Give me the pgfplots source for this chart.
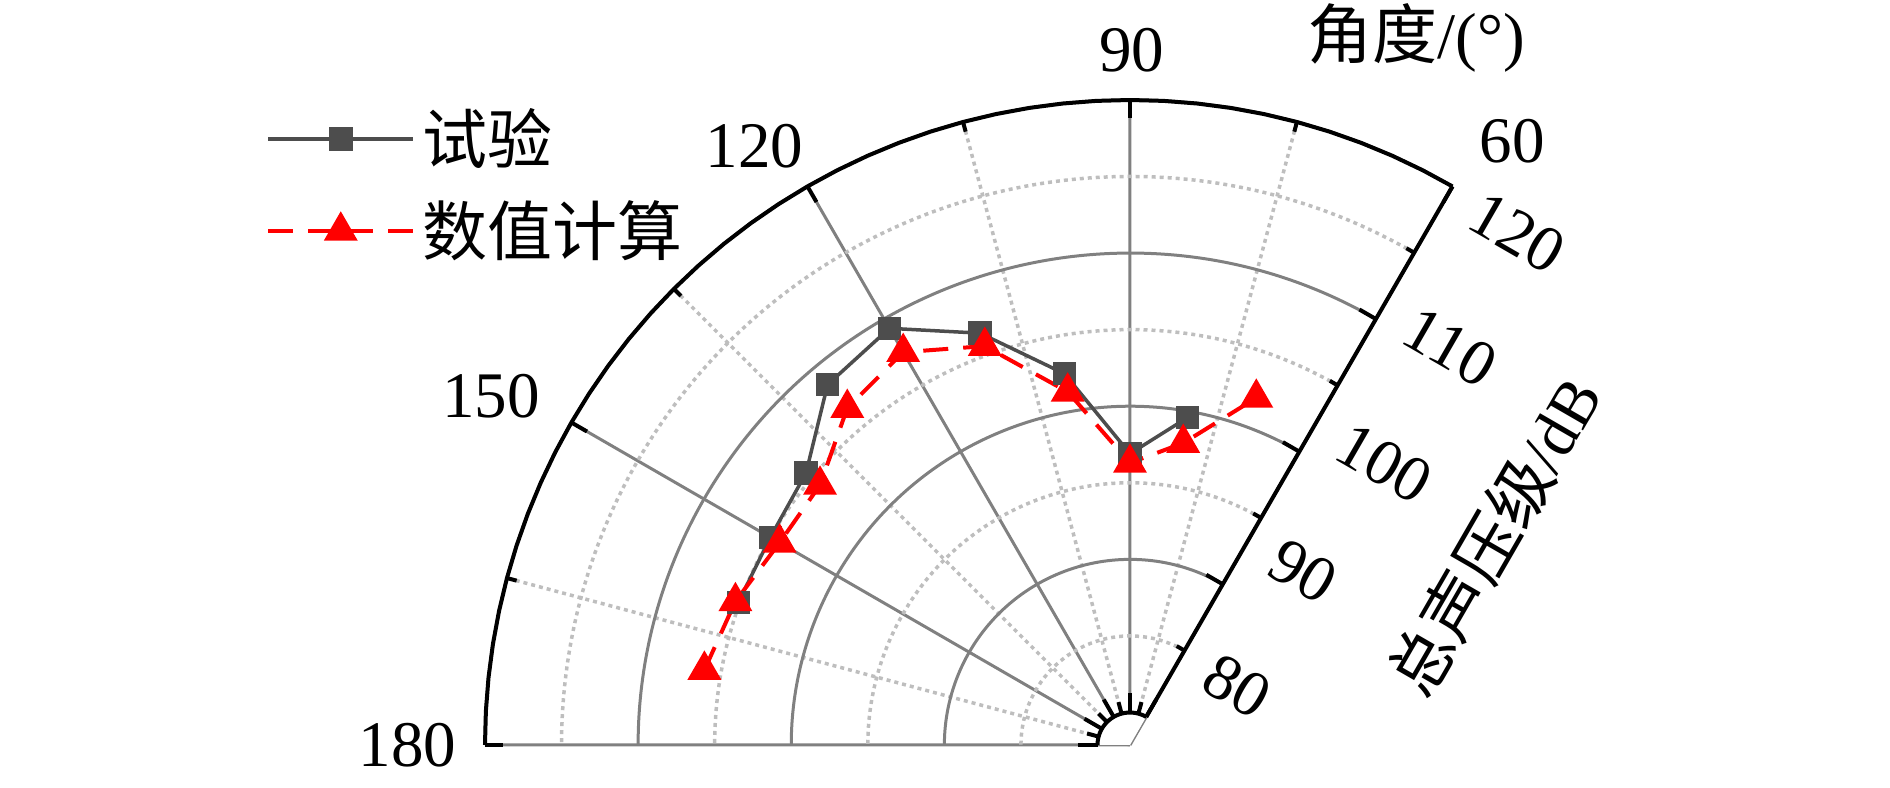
\documentclass[border=0pt]{standalone}
\usepackage{pgfplots}
\pgfplotsset{compat=1.18}
\usepackage{pgfplotstable}
\usepgfplotslibrary{polar}
\usepackage{fontspec}
\setmainfont{Liberation Serif}
\newfontfamily\cjk{Noto Sans CJK SC}
\definecolor{expgray}{RGB}{77,77,77}
\definecolor{majgrid}{RGB}{128,128,128}
\definecolor{mingrid}{RGB}{190,190,190}

\pgfplotstableread{
a db
160 105.1
150 105.0
140 105.5
130 108.6
120 109.3
110 106.5
100 102.5
90 96.9
80 99.6
}\expdata

\pgfplotstableread{
a db
170 106.1
160 105.3
150 104.3
140 104.3
130 106.6
120 107.5
110 105.6
100 101.3
90 96.3
80 97.9
70 102.0
}\numdata

\def\fs{\fontsize{18.5}{22}\selectfont}
\newcommand{\ylab}[2]{\hspace*{0.30cm}\raisebox{#1}{#2}}

\begin{document}
\begin{tikzpicture}
\useasboundingbox (-11.30,-0.43) rectangle (7.60,7.45);
\begin{polaraxis}[
  at={(0,0)}, anchor=origin,
  scale only axis, width=12.9cm, height=12.9cm,
  xmin=60, xmax=180, ymin=0, ymax=42.12,
  clip=false,
  xtick={60,90,120,150,180},
  xticklabels={,,,,},
  minor xtick={75,105,135,165},
  ytick={2.12,12.12,22.12,32.12,42.12},
  yticklabels={\ylab{0.505cm}{80},\ylab{0.305cm}{90},\ylab{0.115cm}{100},\ylab{-0.085cm}{110},\ylab{-0.29cm}{120}},
  minor ytick={7.12,17.12,27.12,37.12},
  grid=both,
  major grid style={draw=majgrid, line width=0.03cm},
  minor grid style={draw=mingrid, line width=0.035cm, dash pattern=on 0.04cm off 0.04cm},
  axis line style={draw=none},
  tick style={draw=none},
  /pgf/number format/assume math mode=true,
  tick label style={font=\fs},
  yticklabel style={rotate=-30, anchor=base west, inner sep=0pt},
  legend cell align=left,
  legend style={draw=none, fill=none, at={(axis cs:143.35,71.22)}, anchor=north west,
    font=\fs\cjk, row sep=5pt},
  legend image code/.code={\draw[mark repeat=2, mark phase=2, #1] plot coordinates {(0cm,0cm) (0.725cm,0cm) (1.45cm,0cm)};},
]
\addplot[color=expgray, line width=0.035cm, mark=square*, mark size=0.1cm, mark options={solid}]
  table[x=a, y expr=\thisrow{db}-77.88] {\expdata};
\addlegendentry{试验}
\addplot[color=red, line width=0.04cm, dash pattern=on 0.25cm off 0.15cm, mark=triangle*, mark size=0.156cm, mark options={solid}]
  table[x=a, y expr=\thisrow{db}-77.88] {\numdata};
\addlegendentry{数值计算}

% inner hole cover
\addplot[forget plot, draw=none, fill=white] coordinates {(60,0) (60,2.12) (65,2.12) (70,2.12) (75,2.12) (80,2.12) (85,2.12) (90,2.12) (95,2.12) (100,2.12) (105,2.12) (110,2.12) (115,2.12) (120,2.12) (125,2.12) (130,2.12) (135,2.12) (140,2.12) (145,2.12) (150,2.12) (155,2.12) (160,2.12) (165,2.12) (170,2.12) (175,2.12) (180,2.12) (180,0)};
% inner hole arc
\addplot[forget plot, black, line width=0.04cm, line join=round] coordinates {(60,2.12) (65,2.12) (70,2.12) (75,2.12) (80,2.12) (85,2.12) (90,2.12) (95,2.12) (100,2.12) (105,2.12) (110,2.12) (115,2.12) (120,2.12) (125,2.12) (130,2.12) (135,2.12) (140,2.12) (145,2.12) (150,2.12) (155,2.12) (160,2.12) (165,2.12) (170,2.12) (175,2.12) (180,2.12)};
% outer arc
\addplot[forget plot, black, line width=0.04cm, line join=round] coordinates {(60,42.12) (63,42.12) (66,42.12) (69,42.12) (72,42.12) (75,42.12) (78,42.12) (81,42.12) (84,42.12) (87,42.12) (90,42.12) (93,42.12) (96,42.12) (99,42.12) (102,42.12) (105,42.12) (108,42.12) (111,42.12) (114,42.12) (117,42.12) (120,42.12) (123,42.12) (126,42.12) (129,42.12) (132,42.12) (135,42.12) (138,42.12) (141,42.12) (144,42.12) (147,42.12) (150,42.12) (153,42.12) (156,42.12) (159,42.12) (162,42.12) (165,42.12) (168,42.12) (171,42.12) (174,42.12) (177,42.12) (180,42.12)};
% radial edge at 60
\draw[black, line width=0.04cm] (axis cs:60,2.12) -- (axis cs:60,42.12);
% angle ticks
\pgfplotsinvokeforeach{60,90,120,150,180}{
  \draw[black, line width=0.04cm] (axis cs:#1,42.12) -- ++({#1+180}:0.18cm);
  \draw[black, line width=0.04cm] (axis cs:#1,2.12) -- ++(#1:0.2cm);
}
\pgfplotsinvokeforeach{75,105,135,165}{
  \draw[black, line width=0.04cm] (axis cs:#1,42.12) -- ++({#1+180}:0.1cm);
  \draw[black, line width=0.04cm] (axis cs:#1,2.12) -- ++(#1:0.12cm);
}
% radial ticks
\pgfplotsinvokeforeach{12.12,22.12,32.12}{
  \draw[black, line width=0.04cm] (axis cs:60,#1) -- ++(150:0.19cm);
}
\pgfplotsinvokeforeach{7.12,17.12,27.12,37.12}{
  \draw[black, line width=0.04cm] (axis cs:60,#1) -- ++(150:0.09cm);
}
% angle labels
\path (axis cs:60,42.12) ++(0.265cm,0.23cm) node[anchor=south west, inner sep=0pt, font=\fs] {60};
\path (axis cs:90,42.12) ++(0.02cm,0.27cm) node[anchor=south, inner sep=0pt, font=\fs] {90};
\path (axis cs:120,42.12) ++(-0.035cm,0.18cm) node[anchor=south east, inner sep=0pt, font=\fs] {120};
\path (axis cs:150,42.12) ++(-0.31cm,0.04cm) node[anchor=south east, inner sep=0pt, font=\fs] {150};
\path (axis cs:180,42.12) ++(-0.28cm,0cm) node[anchor=east, inner sep=0pt, font=\fs] {180};
\end{polaraxis}
\node[font=\fs] at (2.86,7.07) {{\cjk 角度}/(°)};
\node[rotate=60, font=\fs] at (3.64,2.09) {{\cjk 总声压级}/dB};
\end{tikzpicture}
\end{document}
